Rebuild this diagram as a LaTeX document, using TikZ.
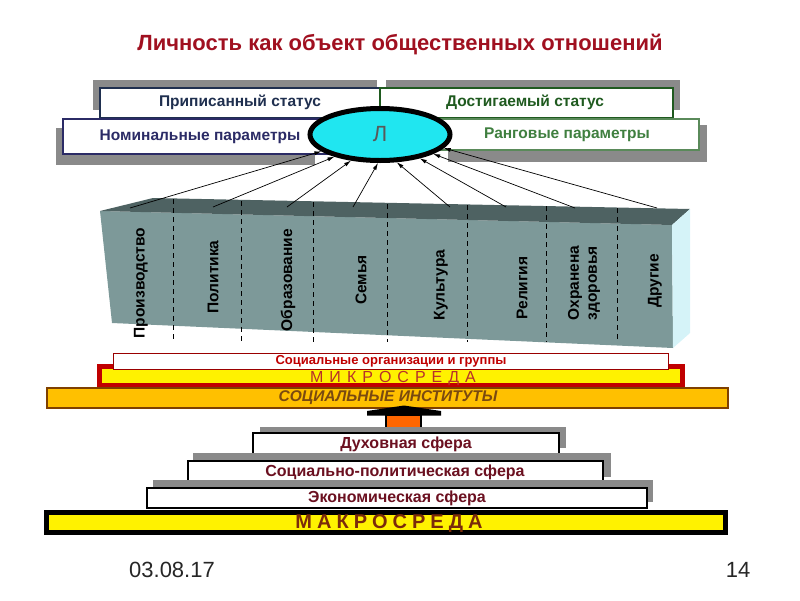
\documentclass[tikz,border=0pt]{standalone}
\usepackage{fontspec}
\setmainfont{Liberation Sans}
\usetikzlibrary{shapes.geometric,arrows.meta}
\definecolor{titlered}{HTML}{A01020}
\definecolor{navyA}{HTML}{1F2F4F}
\definecolor{navyB}{HTML}{2B2B66}
\definecolor{greenA}{HTML}{1F5A1F}
\definecolor{greenB}{HTML}{3F7F3F}
\definecolor{greenC}{HTML}{5A8A5A}
\definecolor{shadowgray}{HTML}{8A8A8A}
\definecolor{frontface}{HTML}{7D9999}
\definecolor{topface}{HTML}{4E6262}
\definecolor{sideface}{HTML}{D5F3F8}
\definecolor{ecyan}{HTML}{20E6F0}
\definecolor{microred}{HTML}{C00000}
\definecolor{microtxt}{HTML}{B8302A}
\definecolor{instfill}{HTML}{FFC000}
\definecolor{instline}{HTML}{7F4000}
\definecolor{insttxt}{HTML}{7A4A10}
\definecolor{sphtxt}{HTML}{6B1020}
\definecolor{macrotxt}{HTML}{7A2A0A}
\definecolor{arroworange}{HTML}{FF6600}
\newcommand\fs[2]{\fontsize{#1}{#2}\selectfont}
\begin{document}
\begin{tikzpicture}[x=1pt,y=-1pt,
  txt/.style={inner sep=0pt, outer sep=0pt},
  shadowbox/.style={fill=shadowgray, draw=none},
  colname/.style={txt, rotate=90, align=center, font=\bfseries\fs{15.5}{18}},
  sphbox/.style={draw=black, fill=white, line width=1.3pt},
  sphtext/.style={txt, font=\bfseries\fs{16}{18}, text=sphtxt},
  toptext/.style={txt, font=\bfseries\fs{15.5}{18}},
  ray/.style={line width=0.7pt, -{Latex[length=7pt,width=4pt]}},
  divider/.style={line width=0.9pt, dash pattern=on 5pt off 4pt}]
\useasboundingbox (0,0) rectangle (800,600);

% title
\node[txt, font=\bfseries\fs{22}{24}, text=titlered] (title) at (400,45) {Личность как объект общественных отношений};

% top boxes: shadows
\path[shadowbox] (93,80) rectangle (377,110);
\path[shadowbox] (386,80) rectangle (680,110);
\path[shadowbox] (56,128) rectangle (315,165);
\path[shadowbox] (448,125) rectangle (707,162);
% top boxes
\draw[navyA, line width=1.8pt, fill=white] (100,88) rectangle (380,118);
\draw[greenA, line width=1.8pt, fill=white] (380,88) rectangle (673,118);
\draw[navyB, line width=1.6pt, fill=white] (63,119) rectangle (330,154);
\draw[greenC, line width=1.1pt, fill=white] (430,119) rectangle (699,150);
\node[toptext, text=navyA] (pripis) at (240,102) {Приписанный статус};
\node[toptext, text=greenA] (dostig) at (525,102) {Достигаемый статус};
\node[toptext, text=navyB] (nomin) at (200,137) {Номинальные параметры};
\node[toptext, text=greenB] (rang) at (567,135) {Ранговые параметры};

% 3D block of institutions
\path[fill=frontface] (100,211) -- (672,225) -- (673,348) -- (112,323) -- cycle;
\path[fill=topface] (100,211) -- (153,198) -- (690,209) -- (672,225) -- cycle;
\path[fill=sideface] (672,225) -- (690,209) -- (690,333) -- (673,348) -- cycle;
\foreach \x/\y in {173/199,241/201,313/202,387/204,467/205,546/206,617/208}
  \draw[divider] (\x,\y) -- (\x,342);

\node[colname] (k1) at (141,283) {Производство};
\node[colname] (k2) at (213,277) {Политика};
\node[colname] (k3) at (288,280) {Образование};
\node[colname] (k4) at (361,280) {Семья};
\node[colname] (k5) at (441,285) {Культура};
\node[colname] (k6) at (522,288) {Религия};
\node[colname] (k7) at (584,283) {Охранена\\здоровья};
\node[colname] (k8) at (655,281) {Другие};

% start points of rays on top face
\coordinate (c1) at (130,208);
\coordinate (c2) at (213,207);
\coordinate (c3) at (287,207);
\coordinate (c4) at (353,207);
\coordinate (c5) at (450,207);
\coordinate (c6) at (506,207);
\coordinate (c7) at (575,208);
\coordinate (c8) at (657,208);

% personality ellipse
\node[ellipse, draw=black, line width=5pt, fill=ecyan, minimum width=140pt, minimum height=52pt,
      inner sep=0pt, font=\fs{22}{24}, text=black!65] (L) at (380,134.5) {Л};

\draw[ray] (c1) -- (L.196);
\draw[ray] (c2) -- (L.206);
\draw[ray] (c3) -- (L.222);
\draw[ray] (c4) -- (L.266);
\draw[ray] (c5) -- (L.301);
\draw[ray] (c6) -- (L.329);
\draw[ray] (c7) -- (L.340);
\draw[ray] (c8) -- (L.348);

% micro environment
\draw[microred, line width=5pt, fill=yellow] (99.5,366.5) rectangle (682.5,385.5);
\draw[microred!80!black, line width=0.8pt, fill=white] (113,353) rectangle (668,369);
\node[txt, font=\bfseries\fs{13}{15}, text=microred] (org) at (391,361) {Социальные организации и группы};
\node[txt, font=\fs{16}{18}, text=microtxt] (micro) at (393,378.5) {\spaceskip=6pt plus 0pt М И К Р О С Р Е Д А};

% social institutions
\draw[instline, line width=1.8pt, fill=instfill] (47,388) rectangle (728,408);
\node[txt, font=\bfseries\itshape\fs{15.5}{18}, text=insttxt] (inst) at (388,398) {СОЦИАЛЬНЫЕ ИНСТИТУТЫ};

% block arrow pointing up
\fill[black] (367,415.5) -- (367,411) -- (404,405.5) -- (441,411) -- (441,415.5) -- cycle;
\draw[black, line width=2.2pt, fill=arroworange] (386,415) rectangle (421,432);

% spheres
\path[shadowbox] (260,427) rectangle (566,448);
\draw[sphbox] (253,433) rectangle (559,455);
\node[sphtext] (dux) at (406,444) {Духовная сфера};

\path[shadowbox] (193,453) rectangle (611,477);
\draw[sphbox] (188,461) rectangle (603,484);
\node[sphtext] (socpol) at (395,472.5) {Социально-политическая сфера};

\path[shadowbox] (153,480) rectangle (653,502);
\draw[sphbox] (147,488) rectangle (647,508);
\node[sphtext] (econ) at (397,498) {Экономическая сфера};

% macro environment
\draw[black, line width=5pt, fill=yellow] (46.5,512.5) rectangle (725.5,532.5);
\node[txt, font=\bfseries\fs{20}{22}, text=macrotxt] (macro) at (389,523.5) {\spaceskip=5pt plus 0pt М А К Р О С Р Е Д А};

% footer
\node[txt, font=\fs{22}{24}, text=black!85] (date) at (172,570) {03.08.17};
\node[txt, font=\fs{22}{24}, text=black!85] (page) at (738,570) {14};
\end{tikzpicture}
\end{document}
